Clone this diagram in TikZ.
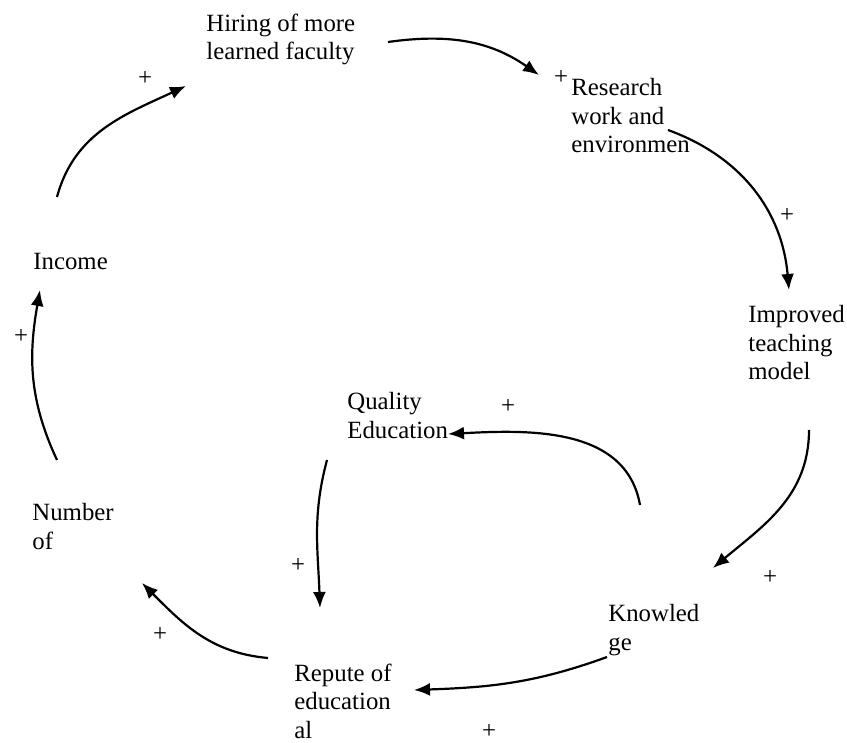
\documentclass[tikz,border=0pt]{standalone}
\usepackage{fontspec}
\setmainfont{Liberation Serif}
\usepackage{tikz}
\usetikzlibrary{arrows.meta}
\tikzstyle{factor}=[inner sep=0pt,anchor=base west,align=left,font=\fontsize{12.4pt}{14.25pt}\selectfont]
\tikzstyle{sign}=[inner sep=0pt,font=\fontsize{12.4pt}{14.25pt}\selectfont]
\tikzstyle{link}=[draw,line width=1.1pt,-{Latex[length=8pt,width=6.5pt]}]

\begin{document}
\begin{tikzpicture}[x=0.5pt,y=-0.5pt]
        \useasboundingbox (0,0) rectangle (847,743);
        % factors (placed at the baseline of their last line)
        \node[factor] (hiring) at (206,60) {Hiring of more\\learned faculty};
        \node[factor] (research) at (571,153) {Research\\work and\\environmen};
        \node[factor] (income) at (33,270) {Income};
        \node[factor] (teaching) at (748,380) {Improved\\teaching\\model};
        \node[factor] (quality) at (347,438) {Quality\\Education};
        \node[factor] (number) at (32,549) {Number\\of};
        \node[factor] (knowledge) at (608,650) {Knowled\\ge};
        \node[factor] (repute) at (294,738) {Repute of\\education\\al};
        % polarity signs
        \node[sign] (s1) at (145,78) {+};
        \node[sign] (s2) at (561,77) {+};
        \node[sign] (s3) at (787,215) {+};
        \node[sign] (s4) at (21,336) {+};
        \node[sign] (s5) at (508,406) {+};
        \node[sign] (s6) at (770,577) {+};
        \node[sign] (s7) at (298,565) {+};
        \node[sign] (s8) at (160,634) {+};
        \node[sign] (s9) at (489,731) {+};
        % arrow ends
        \coordinate (income-out) at (57,197);
        \coordinate (hiring-in) at (186,86);
        \coordinate (hiring-out) at (388,42);
        \coordinate (research-in) at (539,75);
        \coordinate (research-out) at (668,130);
        \coordinate (teaching-in) at (789,290);
        \coordinate (teaching-out) at (809,430);
        \coordinate (knowledge-in) at (713,568);
        \coordinate (knowledge-up) at (640,505);
        \coordinate (quality-in) at (448,434);
        \coordinate (quality-out) at (327,460);
        \coordinate (repute-top) at (320,608);
        \coordinate (knowledge-out) at (607,657);
        \coordinate (repute-in) at (414,690);
        \coordinate (repute-out) at (268,658);
        \coordinate (number-in) at (142,583);
        \coordinate (number-out) at (57,460);
        \coordinate (income-in) at (40,290);
        % links
        \draw[link] (income-out) to[out=75,in=-155] (hiring-in);
        \draw[link] (hiring-out) to[out=8,in=145] (research-in);
        \draw[link] (research-out) to[out=-20,in=95] (teaching-in);
        \draw[link] (teaching-out) to[out=-90,in=40] (knowledge-in);
        \draw[link] (knowledge-up) to[out=100,in=3] (quality-in);
        \draw[link] (quality-out) to[out=-105,in=92] (repute-top);
        \draw[link] (knowledge-out) to[out=-160,in=2] (repute-in);
        \draw[link] (repute-out) to[out=175,in=-45] (number-in);
        \draw[link] (number-out) to[out=115,in=-100] (income-in);
\end{tikzpicture}
\end{document}
